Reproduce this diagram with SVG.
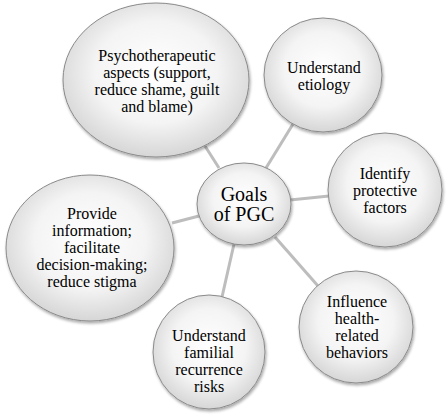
<svg xmlns="http://www.w3.org/2000/svg" width="447" height="416" viewBox="0 0 447 416">
<defs>
<radialGradient id="g" cx="50%" cy="45%" r="55%">
<stop offset="0" stop-color="#ffffff"/>
<stop offset="0.6" stop-color="#f4f4f4"/>
<stop offset="1" stop-color="#d6d6d6"/>
</radialGradient>
<filter id="sh" x="-10%" y="-10%" width="125%" height="125%">
<feGaussianBlur in="SourceAlpha" stdDeviation="1.5"/>
<feOffset dx="1" dy="2" result="b"/>
<feComponentTransfer><feFuncA type="linear" slope="0.35"/></feComponentTransfer>
<feMerge><feMergeNode/><feMergeNode in="SourceGraphic"/></feMerge>
</filter>
</defs>
<style>
.n{fill:url(#g);stroke:#8a8a8a;stroke-width:1;filter:url(#sh)}
.t{font-size:16px;fill:#000;text-anchor:middle}
.c{stroke:#bdbdbd;stroke-width:3;fill:none}
</style>
<rect width="447" height="416" fill="#fff"/>
<g id="connectors">
<line class="c" x1="205" y1="146" x2="219" y2="168"/>
<line class="c" x1="293" y1="124" x2="266" y2="168"/>
<line class="c" x1="290" y1="200" x2="329" y2="196"/>
<line class="c" x1="172" y1="223" x2="199" y2="216"/>
<line class="c" x1="234" y1="244" x2="222" y2="297"/>
<line class="c" x1="275" y1="237" x2="318" y2="286"/>
</g>
<g font-family="'Liberation Serif', 'DejaVu Serif', serif">
<g id="psycho">
<ellipse class="n" cx="156" cy="80" rx="93" ry="77"/>
<text class="t"><tspan x="157" y="61">Psychotherapeutic</tspan><tspan x="157" y="78">aspects (support,</tspan><tspan x="157" y="95">reduce shame, guilt</tspan><tspan x="157" y="112">and blame)</tspan></text>
</g>
<g id="etiology">
<ellipse class="n" cx="323" cy="75" rx="59" ry="57"/>
<text class="t"><tspan x="324" y="73">Understand</tspan><tspan x="324" y="90">etiology</tspan></text>
</g>
<g id="protective">
<ellipse class="n" cx="385" cy="190" rx="57" ry="57"/>
<text class="t"><tspan x="385" y="179">Identify</tspan><tspan x="385" y="196">protective</tspan><tspan x="385" y="213">factors</tspan></text>
</g>
<g id="provide">
<ellipse class="n" cx="90" cy="248" rx="84" ry="73"/>
<text class="t"><tspan x="92" y="219">Provide</tspan><tspan x="92" y="236">information;</tspan><tspan x="92" y="253">facilitate</tspan><tspan x="92" y="270">decision-making;</tspan><tspan x="92" y="287">reduce stigma</tspan></text>
</g>
<g id="familial">
<ellipse class="n" cx="209" cy="352" rx="56" ry="57"/>
<text class="t"><tspan x="209" y="341">Understand</tspan><tspan x="209" y="358">familial</tspan><tspan x="209" y="375">recurrence</tspan><tspan x="209" y="392">risks</tspan></text>
</g>
<g id="influence">
<ellipse class="n" cx="356" cy="327" rx="57" ry="56"/>
<text class="t"><tspan x="357" y="307">Influence</tspan><tspan x="357" y="324">health-</tspan><tspan x="357" y="341">related</tspan><tspan x="357" y="358">behaviors</tspan></text>
</g>
<g id="goals">
<ellipse class="n" cx="244" cy="204" rx="47" ry="41"/>
<text class="t" style="font-size:20px"><tspan x="244" y="201">Goals</tspan><tspan x="244" y="221">of PGC</tspan></text>
</g>
</g>
</svg>
